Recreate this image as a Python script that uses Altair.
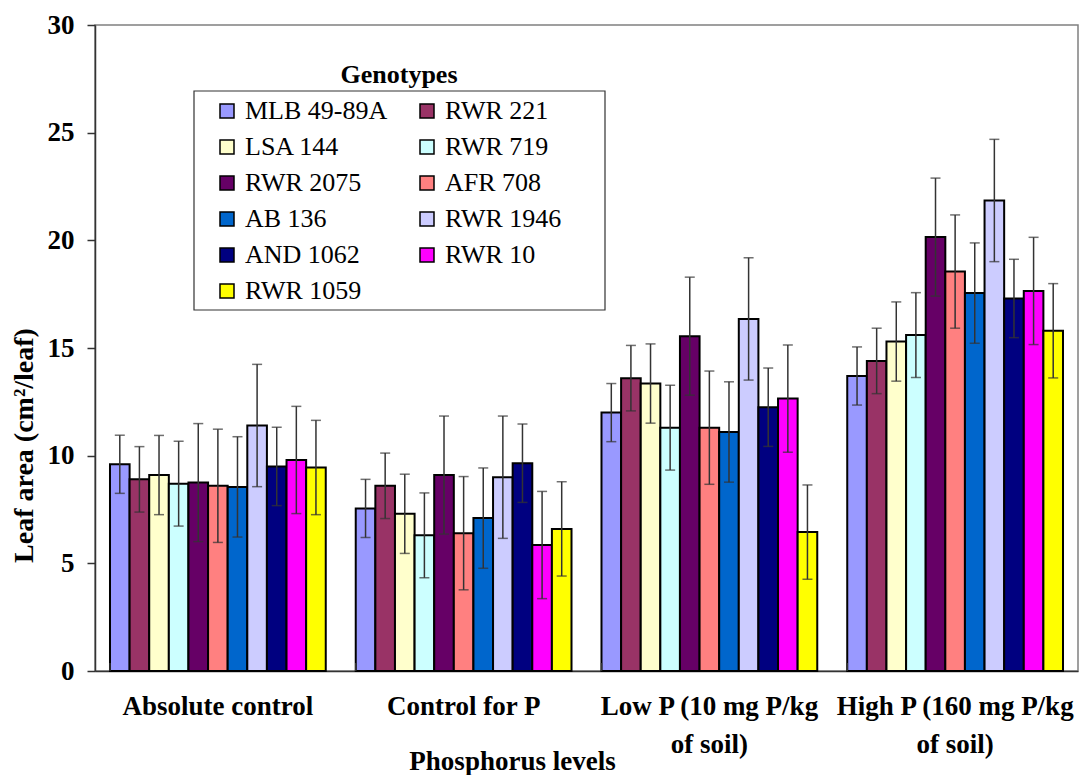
import altair as alt
import pandas as pd

groups = ["Absolute control", "Control for P",
          "Low P (10 mg P/kg\nof  soil)", "High P (160 mg P/kg\nof soil)"]
genotypes = ["MLB 49-89A", "RWR 221", "LSA 144", "RWR 719", "RWR 2075", "AFR 708",
             "AB 136", "RWR 1946", "AND 1062", "RWR 10", "RWR 1059"]
colors = ["#9999FF", "#993366", "#FFFFCC", "#CCFFFF", "#660066", "#FF8080",
          "#0066CC", "#CCCCFF", "#000080", "#FF00FF", "#FFFF00"]

mean_absolute = [9.6, 8.9, 9.1, 8.7, 8.75, 8.6, 8.55, 11.4, 9.5, 9.8, 9.45]
mean_control_p = [7.55, 8.6, 7.3, 6.3, 9.1, 6.4, 7.1, 9.0, 9.65, 5.85, 6.6]
mean_low_p = [12.0, 13.6, 13.35, 11.3, 15.55, 11.3, 11.1, 16.35, 12.25, 12.65, 6.45]
mean_high_p = [13.7, 14.4, 15.3, 15.6, 20.15, 18.55, 17.55, 21.85, 17.3, 17.65, 15.8]
errors = [1.35, 1.52, 1.84, 1.97, 2.74, 2.63, 2.33, 2.84, 1.82, 2.49, 2.19]

rows = []
for g, means in zip(groups, [mean_absolute, mean_control_p, mean_low_p, mean_high_p]):
    for geno, m, e in zip(genotypes, means, errors):
        rows.append({"group": g, "genotype": geno, "mean": m, "lo": m - e, "hi": m + e})
df = pd.DataFrame(rows)

# legend fills column by column: reorder so it reads row by row like the original
legend_order = genotypes[0::2] + genotypes[1::2]
color_of = dict(zip(genotypes, colors))
legend_colors = [color_of[g] for g in legend_order]

FONT = "Liberation Serif"

X = alt.X("group:N", sort=groups,
          scale=alt.Scale(paddingInner=0.122, paddingOuter=0.061),
          axis=alt.Axis(title="Phosphorus levels", labelAngle=0, ticks=False,
                        labelExpr="split(datum.label, '\\n')",
                        labelFont=FONT, labelFontWeight="bold", labelFontSize=27,
                        labelPadding=22, labelLineHeight=38, labelLimit=400,
                        labelColor="black", domainColor="#333333", domainWidth=1.5,
                        titleFont=FONT, titleFontWeight="bold", titleFontSize=27,
                        titleColor="black", titleX=417, titleY=98,
                        titleAlign="center", titleBaseline="alphabetic"))
XO = alt.XOffset("genotype:N", sort=genotypes,
                 scale=alt.Scale(paddingInner=0, paddingOuter=0))

base = alt.Chart(df)

bars = base.mark_bar(stroke="black", strokeWidth=2, opacity=1).encode(
    x=X, xOffset=XO,
    y=alt.Y("mean:Q", scale=alt.Scale(domain=[0, 30], nice=False),
            axis=alt.Axis(title="Leaf area (cm²/leaf)", values=[0, 5, 10, 15, 20, 25, 30],
                          grid=False, tickSize=8, tickColor="#333333", tickWidth=1.5,
                          domainColor="#333333", domainWidth=1.5,
                          labelFont=FONT, labelFontWeight="bold", labelFontSize=27,
                          labelColor="black", labelPadding=13,
                          titleFont=FONT, titleFontWeight="bold", titleFontSize=28,
                          titleColor="black", titleX=-71, titleY=420, titleAngle=270,
                          titleAlign="center", titleBaseline="middle")),
    color=alt.Color("genotype:N",
                    scale=alt.Scale(domain=legend_order, range=legend_colors),
                    legend=alt.Legend(orient="none", legendX=119, legendY=73, title=None,
                                      columns=2, symbolType="square", symbolSize=196,
                                      symbolStrokeColor="black", symbolStrokeWidth=1.5,
                                      symbolOpacity=1,
                                      labelFont=FONT, labelFontSize=26, labelColor="black",
                                      labelOffset=5, labelLimit=300,
                                      rowPadding=10, columnPadding=26, padding=0)),
)

err_rule = base.mark_rule(color="#333333", strokeWidth=1.5).encode(
    x=X, xOffset=XO, y="lo:Q", y2="hi:Q")
cap_lo = base.mark_tick(color="#333333", thickness=1.5, size=10, orient="horizontal").encode(
    x=X, xOffset=XO, y="lo:Q")
cap_hi = base.mark_tick(color="#333333", thickness=1.5, size=10, orient="horizontal").encode(
    x=X, xOffset=XO, y="hi:Q")

sep = alt.Chart(pd.DataFrame({"group": groups})).mark_rule(
    color="#333333", strokeWidth=1.5).encode(
    x=alt.X("group:N", sort=groups, bandPosition=0),
    y=alt.value(646), y2=alt.value(638))

legend_frame = alt.Chart(pd.DataFrame({"t": ["Genotypes"]})).mark_rect(
    fill="white", fillOpacity=0, stroke="#333333", strokeWidth=1.2).encode(
    x=alt.value(99), x2=alt.value(510), y=alt.value(66), y2=alt.value(285))

legend_title = alt.Chart(pd.DataFrame({"t": ["Genotypes"]})).mark_text(
    font=FONT, fontWeight="bold", fontSize=26, color="black", align="center",
    baseline="middle").encode(x=alt.value(304), y=alt.value(50), text="t:N")

chart = alt.layer(bars, err_rule, cap_lo, cap_hi, sep, legend_frame, legend_title).properties(
    width=983, height=646,
    autosize=alt.AutoSizeParams(type="none"),
    padding={"left": 95, "top": 25, "right": 12, "bottom": 104},
    background="white",
).configure(font=FONT).configure_view(stroke="#808080", strokeWidth=1.5)

chart.save("out.html", embed_options={"renderer": "svg", "actions": False})
